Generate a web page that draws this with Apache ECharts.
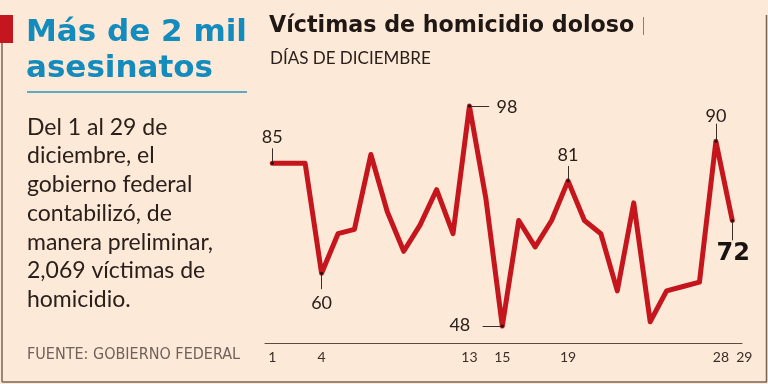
<!DOCTYPE html>
<html><head><meta charset="utf-8">
<script src="https://cdn.jsdelivr.net/npm/echarts@6/dist/echarts.min.js"></script>
<style>html,body{margin:0;padding:0;background:#fde9d8;}#c{width:768px;height:384px;}</style>
</head><body><div id="c"></div>
<script>
const days = [1,2,3,4,5,6,7,8,9,10,11,12,13,14,15,16,17,18,19,20,21,22,23,24,25,26,27,28,29];
const victims = [85,85,85,60,69,70,87,74,65,71,79,69,98,77,48,72,66,72,81,72,69,56,76,49,56,57,58,90,72];
const tickDays = [1,4,13,15,19,28,29];
const labelledDays = [1,4,13,15,19,28,29];

const FONT = "Lato, 'Noto Sans', sans-serif";
const HEAVY = "'DejaVu Sans', Lato, sans-serif";
const RED = '#c5161d';
const INK = '#2a201b';

// annotation styling per labelled day (offsets in px, leader in data units)
const annot = {
  1:  {off:[0,-26], align:'center', lead:[0,3.4]},
  4:  {off:[0,30], align:'center', lead:[0,-3.6]},
  13: {off:[27,1], align:'left', lead:[1.2,0]},
  15: {off:[-32,-1], align:'right', lead:[-1.2,0]},
  19: {off:[0,-26], align:'center', lead:[0,3.4]},
  28: {off:[0,-25], align:'center', lead:[0,4]},
  29: {off:[1,33], align:'center', lead:[0,-4.5], bold:true}
};
const tickShift = {28:10, 29:24};

const markPts = labelledDays.map(d => {
  const v = victims[days.indexOf(d)];
  const a = annot[d];
  return {
    coord:[d, v], value:v,
    label:{show:true, position:'inside', offset:a.off, align:a.align, verticalAlign:'middle',
      formatter:String(v), color: a.bold ? '#1a1410' : INK,
      fontFamily: a.bold ? HEAVY : FONT, fontSize: a.bold ? 24 : 18, fontWeight: a.bold ? 'bold' : 400}
  };
});
const markLns = labelledDays.map(d => {
  const v = victims[days.indexOf(d)];
  const a = annot[d];
  return [{coord:[d, v]}, {coord:[d + a.lead[0], v + a.lead[1]]}];
});

const chart = echarts.init(document.getElementById('c'), null, {renderer:'canvas'});
chart.setOption({
  backgroundColor:'#fde9d8',
  animation:false,
  grid:{left:265, right:26, top:97.3, bottom:40.3},
  xAxis:{type:'value', min:0.556, max:29.59,
    axisLine:{show:true, lineStyle:{color:'#5c4a40', width:1}},
    axisTick:{show:false}, splitLine:{show:false},
    axisLabel:{customValues:tickDays, color:'#3a2e28', fontFamily:FONT, fontSize:14, margin:7,
      formatter: v => tickShift[v] ? '{s' + v + '|' + v + '}' : String(v),
      rich:{
        s28:{padding:[0,0,0,tickShift[28]], color:'#3a2e28', fontFamily:FONT, fontSize:14},
        s29:{padding:[0,0,0,tickShift[29]], color:'#3a2e28', fontFamily:FONT, fontSize:14}
      }}
  },
  yAxis:{type:'value', min:44, max:100, show:false, splitLine:{show:false}},
  series:[{
    type:'line', data: days.map((d,i)=>[d, victims[i]]),
    symbol:'none', lineStyle:{color:RED, width:5, join:'round', cap:'round'},
    z:2,
    markLine:{silent:true, symbol:'none', label:{show:false}, lineStyle:{color:'#3a2e28', width:1, type:'solid'}, data:markLns, z:3},
    markPoint:{silent:true, symbol:'circle', symbolSize:3, itemStyle:{color:'#1a1410'}, data:markPts, z:4}
  }],
  graphic:[
    {type:'rect', shape:{x:0,y:15,width:13,height:28}, style:{fill:RED}},
    {type:'line', shape:{x1:2,y1:43,x2:2,y2:382}, style:{stroke:'#7a6458', lineWidth:1.5}},
    {type:'line', shape:{x1:2,y1:382,x2:767,y2:382}, style:{stroke:'#7a6458', lineWidth:1.5}},
    {type:'line', shape:{x1:766.5,y1:15,x2:766.5,y2:382}, style:{stroke:'#7a6458', lineWidth:1.5}},
    {type:'text', left:26, top:17, style:{text:'Más de 2 mil', fill:'#138bbd', font:"bold 31px "+HEAVY}},
    {type:'text', left:26, top:53, style:{text:'asesinatos', fill:'#138bbd', font:"bold 31px "+HEAVY}},
    {type:'line', shape:{x1:27,y1:92,x2:247,y2:92}, style:{stroke:'#2b90b8', lineWidth:1.5}},
    {type:'text', left:27, top:113, style:{text:'Del 1 al 29 de\ndiciembre, el\ngobierno federal\ncontabilizó, de\nmanera preliminar,\n2,069 víctimas de\nhomicidio.', fill:INK, font:"400 23px "+FONT, lineHeight:28.7}},
    {type:'text', left:27, top:347, style:{text:'FUENTE: GOBIERNO FEDERAL', fill:'#6e625b', font:"400 16px 'Liberation Sans Narrow', 'DejaVu Sans Condensed', sans-serif"}},
    {type:'text', left:269, top:15, style:{text:'Víctimas de homicidio doloso', fill:'#1f1814', font:"bold 22.2px "+HEAVY}},
    {type:'line', shape:{x1:643.5,y1:17,x2:643.5,y2:35}, style:{stroke:'#8a7f78', lineWidth:1}},
    {type:'text', left:270, top:50, style:{text:'DÍAS DE DICIEMBRE', fill:INK, font:"400 17px "+FONT}}
  ]
});
</script></body></html>
